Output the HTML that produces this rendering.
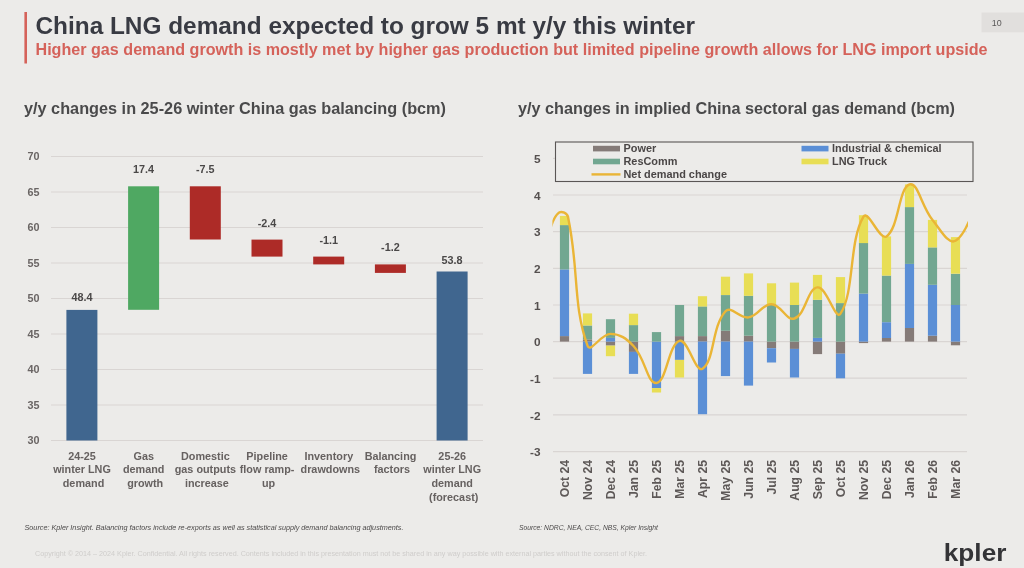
<!DOCTYPE html>
<html lang="en">
<head>
<meta charset="utf-8">
<title>China LNG demand expected to grow 5 mt y/y this winter</title>
<style>
html,body{margin:0;padding:0;background:#ecebe9;}
body{width:1024px;height:568px;overflow:hidden;position:relative;font-family:"Liberation Sans", Arial, sans-serif;}
svg{position:absolute;left:0;top:0;display:block;filter:blur(0.55px);}
svg text{font-family:"Liberation Sans", Arial, sans-serif;}
.title{font-size:23.9px;font-weight:700;fill:#393b43;}
.sub{font-size:15.8px;font-weight:700;fill:#d5625a;}
.ct{font-size:16px;font-weight:700;fill:#4a4a4b;}
.ax{font-size:10.8px;font-weight:700;fill:#6a6564;}
.ax2{font-size:11.8px;font-weight:700;fill:#55504f;}
.val{font-size:10.8px;font-weight:700;fill:#4a4848;}
.cat{font-size:11.4px;font-weight:700;fill:#666160;}
.mon{font-size:12.2px;font-weight:700;fill:#5d5857;}
.leg{font-size:10.9px;font-weight:700;fill:#4a4646;}
.src{font-size:6.6px;font-style:italic;fill:#4c4a4a;}
.copy{font-size:6.6px;fill:#cfcdcb;}
.pg{font-size:8.9px;fill:#5a5858;}
.logo{font-size:24.2px;font-weight:700;fill:#343437;}
</style>
</head>
<body>
<svg width="1024" height="568" viewBox="0 0 1024 568">
<rect x="0" y="0" width="1024" height="568" fill="#ecebe9"/>
<rect x="24.4" y="12" width="2.6" height="51.5" fill="#d5625a"/>
<text x="35.5" y="34.2" class="title" textLength="659.5" lengthAdjust="spacingAndGlyphs">China LNG demand expected to grow 5 mt y/y this winter</text>
<text x="35.5" y="55.3" class="sub" textLength="952" lengthAdjust="spacingAndGlyphs">Higher gas demand growth is mostly met by higher gas production but limited pipeline growth allows for LNG import upside</text>
<rect x="981.5" y="12.5" width="43" height="19.8" fill="#e1dfdd"/>
<text x="991.8" y="26.3" class="pg">10</text>
<text x="24" y="114.3" class="ct" textLength="422" lengthAdjust="spacingAndGlyphs">y/y changes in 25-26 winter China gas balancing (bcm)</text>
<text x="518" y="114.3" class="ct" textLength="437" lengthAdjust="spacingAndGlyphs">y/y changes in implied China sectoral gas demand (bcm)</text>
<g id="left-chart">
<line x1="51.0" x2="483.0" y1="440.5" y2="440.5" stroke="#d9d5d3" stroke-width="1.2"/>
<text x="39.6" y="444.4" class="ax" text-anchor="end">30</text>
<line x1="51.0" x2="483.0" y1="405.0" y2="405.0" stroke="#d9d5d3" stroke-width="1.2"/>
<text x="39.6" y="408.9" class="ax" text-anchor="end">35</text>
<line x1="51.0" x2="483.0" y1="369.5" y2="369.5" stroke="#d9d5d3" stroke-width="1.2"/>
<text x="39.6" y="373.4" class="ax" text-anchor="end">40</text>
<line x1="51.0" x2="483.0" y1="334.0" y2="334.0" stroke="#d9d5d3" stroke-width="1.2"/>
<text x="39.6" y="337.9" class="ax" text-anchor="end">45</text>
<line x1="51.0" x2="483.0" y1="298.5" y2="298.5" stroke="#d9d5d3" stroke-width="1.2"/>
<text x="39.6" y="302.4" class="ax" text-anchor="end">50</text>
<line x1="51.0" x2="483.0" y1="263.0" y2="263.0" stroke="#d9d5d3" stroke-width="1.2"/>
<text x="39.6" y="266.9" class="ax" text-anchor="end">55</text>
<line x1="51.0" x2="483.0" y1="227.5" y2="227.5" stroke="#d9d5d3" stroke-width="1.2"/>
<text x="39.6" y="231.4" class="ax" text-anchor="end">60</text>
<line x1="51.0" x2="483.0" y1="192.0" y2="192.0" stroke="#d9d5d3" stroke-width="1.2"/>
<text x="39.6" y="195.9" class="ax" text-anchor="end">65</text>
<line x1="51.0" x2="483.0" y1="156.5" y2="156.5" stroke="#d9d5d3" stroke-width="1.2"/>
<text x="39.6" y="160.4" class="ax" text-anchor="end">70</text>
<rect x="66.4" y="309.9" width="31.0" height="130.6" fill="#40668f"/>
<text x="81.9" y="300.8" class="val" text-anchor="middle">48.4</text>
<rect x="128.1" y="186.3" width="31.0" height="123.5" fill="#4fa862"/>
<text x="143.6" y="173.0" class="val" text-anchor="middle">17.4</text>
<rect x="189.8" y="186.3" width="31.0" height="53.2" fill="#ad2b27"/>
<text x="205.3" y="173.0" class="val" text-anchor="middle">-7.5</text>
<rect x="251.5" y="239.6" width="31.0" height="17.0" fill="#ad2b27"/>
<text x="267.0" y="227.3" class="val" text-anchor="middle">-2.4</text>
<rect x="313.2" y="256.6" width="31.0" height="7.8" fill="#ad2b27"/>
<text x="328.7" y="244.4" class="val" text-anchor="middle">-1.1</text>
<rect x="374.9" y="264.4" width="31.0" height="8.5" fill="#ad2b27"/>
<text x="390.4" y="251.0" class="val" text-anchor="middle">-1.2</text>
<rect x="436.6" y="271.5" width="31.0" height="169.0" fill="#40668f"/>
<text x="452.1" y="263.8" class="val" text-anchor="middle">53.8</text>
<text class="cat" text-anchor="middle" transform="translate(83.5,0) scale(0.95,1)">
<tspan x="0" y="459.6">24-25</tspan>
<tspan x="0" y="473.4">winter LNG</tspan>
<tspan x="0" y="487.2">demand</tspan>
</text>
<text class="cat" text-anchor="middle" transform="translate(145.2,0) scale(0.95,1)">
<tspan x="0" y="459.6">Gas</tspan>
<tspan x="0" y="473.4">demand</tspan>
<tspan x="0" y="487.2">growth</tspan>
</text>
<text class="cat" text-anchor="middle" transform="translate(206.9,0) scale(0.95,1)">
<tspan x="0" y="459.6">Domestic</tspan>
<tspan x="0" y="473.4">gas outputs</tspan>
<tspan x="0" y="487.2">increase</tspan>
</text>
<text class="cat" text-anchor="middle" transform="translate(268.6,0) scale(0.95,1)">
<tspan x="0" y="459.6">Pipeline</tspan>
<tspan x="0" y="473.4">flow ramp-</tspan>
<tspan x="0" y="487.2">up</tspan>
</text>
<text class="cat" text-anchor="middle" transform="translate(330.3,0) scale(0.95,1)">
<tspan x="0" y="459.6">Inventory</tspan>
<tspan x="0" y="473.4">drawdowns</tspan>
</text>
<text class="cat" text-anchor="middle" transform="translate(392.0,0) scale(0.95,1)">
<tspan x="0" y="459.6">Balancing</tspan>
<tspan x="0" y="473.4">factors</tspan>
</text>
<text class="cat" text-anchor="middle" transform="translate(453.7,0) scale(0.95,1)">
<tspan x="0" y="459.6">25-26</tspan>
<tspan x="0" y="473.4">winter LNG</tspan>
<tspan x="0" y="487.2">demand</tspan>
<tspan x="0" y="501.0">(forecast)</tspan>
</text>
</g>
<g id="right-chart">
<line x1="553.0" x2="967.0" y1="451.6" y2="451.6" stroke="#d9d5d3" stroke-width="1.2"/>
<text x="540.5" y="456.2" class="ax2" text-anchor="end">-3</text>
<line x1="553.0" x2="967.0" y1="414.9" y2="414.9" stroke="#d9d5d3" stroke-width="1.2"/>
<text x="540.5" y="419.5" class="ax2" text-anchor="end">-2</text>
<line x1="553.0" x2="967.0" y1="378.2" y2="378.2" stroke="#d9d5d3" stroke-width="1.2"/>
<text x="540.5" y="382.9" class="ax2" text-anchor="end">-1</text>
<line x1="553.0" x2="967.0" y1="341.6" y2="341.6" stroke="#d9d5d3" stroke-width="1.2"/>
<text x="540.5" y="346.2" class="ax2" text-anchor="end">0</text>
<line x1="553.0" x2="967.0" y1="305.0" y2="305.0" stroke="#d9d5d3" stroke-width="1.2"/>
<text x="540.5" y="309.6" class="ax2" text-anchor="end">1</text>
<line x1="553.0" x2="967.0" y1="268.3" y2="268.3" stroke="#d9d5d3" stroke-width="1.2"/>
<text x="540.5" y="272.9" class="ax2" text-anchor="end">2</text>
<line x1="553.0" x2="967.0" y1="231.7" y2="231.7" stroke="#d9d5d3" stroke-width="1.2"/>
<text x="540.5" y="236.3" class="ax2" text-anchor="end">3</text>
<line x1="553.0" x2="967.0" y1="195.0" y2="195.0" stroke="#d9d5d3" stroke-width="1.2"/>
<text x="540.5" y="199.6" class="ax2" text-anchor="end">4</text>
<line x1="553.0" x2="967.0" y1="158.4" y2="158.4" stroke="#d9d5d3" stroke-width="1.2"/>
<text x="540.5" y="163.0" class="ax2" text-anchor="end">5</text>
<rect x="559.9" y="336.1" width="9.2" height="5.5" fill="#857b78"/>
<rect x="559.9" y="269.4" width="9.2" height="66.7" fill="#5b8fd6"/>
<rect x="559.9" y="225.1" width="9.2" height="44.3" fill="#72a791"/>
<rect x="559.9" y="215.9" width="9.2" height="9.2" fill="#e8de55"/>
<text transform="translate(568.7,460) rotate(-90)" class="mon" text-anchor="end">Oct 24</text>
<rect x="582.9" y="339.4" width="9.2" height="2.2" fill="#857b78"/>
<rect x="582.9" y="341.6" width="9.2" height="32.3" fill="#5b8fd6"/>
<rect x="582.9" y="325.5" width="9.2" height="13.9" fill="#72a791"/>
<rect x="582.9" y="313.4" width="9.2" height="12.1" fill="#e8de55"/>
<text transform="translate(591.7,460) rotate(-90)" class="mon" text-anchor="end">Nov 24</text>
<rect x="605.9" y="341.6" width="9.2" height="4.0" fill="#857b78"/>
<rect x="605.9" y="337.9" width="9.2" height="3.7" fill="#5b8fd6"/>
<rect x="605.9" y="319.2" width="9.2" height="18.7" fill="#72a791"/>
<rect x="605.9" y="345.6" width="9.2" height="10.6" fill="#e8de55"/>
<text transform="translate(614.7,460) rotate(-90)" class="mon" text-anchor="end">Dec 24</text>
<rect x="628.9" y="341.6" width="9.2" height="10.3" fill="#857b78"/>
<rect x="628.9" y="351.9" width="9.2" height="22.0" fill="#5b8fd6"/>
<rect x="628.9" y="325.1" width="9.2" height="16.5" fill="#72a791"/>
<rect x="628.9" y="313.7" width="9.2" height="11.4" fill="#e8de55"/>
<text transform="translate(637.7,460) rotate(-90)" class="mon" text-anchor="end">Jan 25</text>
<rect x="651.9" y="341.6" width="9.2" height="46.5" fill="#5b8fd6"/>
<rect x="651.9" y="332.1" width="9.2" height="9.5" fill="#72a791"/>
<rect x="651.9" y="388.1" width="9.2" height="4.4" fill="#e8de55"/>
<text transform="translate(660.7,460) rotate(-90)" class="mon" text-anchor="end">Feb 25</text>
<rect x="674.9" y="336.1" width="9.2" height="5.5" fill="#857b78"/>
<rect x="674.9" y="341.6" width="9.2" height="18.3" fill="#5b8fd6"/>
<rect x="674.9" y="305.0" width="9.2" height="31.2" fill="#72a791"/>
<rect x="674.9" y="359.9" width="9.2" height="17.6" fill="#e8de55"/>
<text transform="translate(683.7,460) rotate(-90)" class="mon" text-anchor="end">Mar 25</text>
<rect x="697.9" y="336.1" width="9.2" height="5.5" fill="#857b78"/>
<rect x="697.9" y="341.6" width="9.2" height="72.6" fill="#5b8fd6"/>
<rect x="697.9" y="306.4" width="9.2" height="29.7" fill="#72a791"/>
<rect x="697.9" y="296.2" width="9.2" height="10.3" fill="#e8de55"/>
<text transform="translate(706.7,460) rotate(-90)" class="mon" text-anchor="end">Apr 25</text>
<rect x="720.9" y="330.6" width="9.2" height="11.0" fill="#857b78"/>
<rect x="720.9" y="341.6" width="9.2" height="34.5" fill="#5b8fd6"/>
<rect x="720.9" y="295.1" width="9.2" height="35.6" fill="#72a791"/>
<rect x="720.9" y="276.7" width="9.2" height="18.3" fill="#e8de55"/>
<text transform="translate(729.7,460) rotate(-90)" class="mon" text-anchor="end">May 25</text>
<rect x="743.9" y="335.7" width="9.2" height="5.9" fill="#857b78"/>
<rect x="743.9" y="341.6" width="9.2" height="44.0" fill="#5b8fd6"/>
<rect x="743.9" y="295.8" width="9.2" height="39.9" fill="#72a791"/>
<rect x="743.9" y="273.4" width="9.2" height="22.4" fill="#e8de55"/>
<text transform="translate(752.7,460) rotate(-90)" class="mon" text-anchor="end">Jun 25</text>
<rect x="766.9" y="341.6" width="9.2" height="6.6" fill="#857b78"/>
<rect x="766.9" y="348.2" width="9.2" height="14.3" fill="#5b8fd6"/>
<rect x="766.9" y="304.2" width="9.2" height="37.4" fill="#72a791"/>
<rect x="766.9" y="283.3" width="9.2" height="20.9" fill="#e8de55"/>
<text transform="translate(775.7,460) rotate(-90)" class="mon" text-anchor="end">Jul 25</text>
<rect x="789.9" y="341.6" width="9.2" height="7.3" fill="#857b78"/>
<rect x="789.9" y="348.9" width="9.2" height="28.6" fill="#5b8fd6"/>
<rect x="789.9" y="305.0" width="9.2" height="36.6" fill="#72a791"/>
<rect x="789.9" y="282.6" width="9.2" height="22.4" fill="#e8de55"/>
<text transform="translate(798.7,460) rotate(-90)" class="mon" text-anchor="end">Aug 25</text>
<rect x="812.9" y="341.6" width="9.2" height="12.5" fill="#857b78"/>
<rect x="812.9" y="337.9" width="9.2" height="3.7" fill="#5b8fd6"/>
<rect x="812.9" y="299.8" width="9.2" height="38.1" fill="#72a791"/>
<rect x="812.9" y="274.9" width="9.2" height="24.9" fill="#e8de55"/>
<text transform="translate(821.7,460) rotate(-90)" class="mon" text-anchor="end">Sep 25</text>
<rect x="835.9" y="341.6" width="9.2" height="12.1" fill="#857b78"/>
<rect x="835.9" y="353.7" width="9.2" height="24.6" fill="#5b8fd6"/>
<rect x="835.9" y="303.1" width="9.2" height="38.5" fill="#72a791"/>
<rect x="835.9" y="277.1" width="9.2" height="26.0" fill="#e8de55"/>
<text transform="translate(844.7,460) rotate(-90)" class="mon" text-anchor="end">Oct 25</text>
<rect x="858.9" y="341.6" width="9.2" height="1.5" fill="#857b78"/>
<rect x="858.9" y="293.6" width="9.2" height="48.0" fill="#5b8fd6"/>
<rect x="858.9" y="243.0" width="9.2" height="50.6" fill="#72a791"/>
<rect x="858.9" y="215.2" width="9.2" height="27.9" fill="#e8de55"/>
<text transform="translate(867.7,460) rotate(-90)" class="mon" text-anchor="end">Nov 25</text>
<rect x="881.9" y="337.9" width="9.2" height="3.7" fill="#857b78"/>
<rect x="881.9" y="322.2" width="9.2" height="15.8" fill="#5b8fd6"/>
<rect x="881.9" y="275.6" width="9.2" height="46.5" fill="#72a791"/>
<rect x="881.9" y="236.4" width="9.2" height="39.2" fill="#e8de55"/>
<text transform="translate(890.7,460) rotate(-90)" class="mon" text-anchor="end">Dec 25</text>
<rect x="904.9" y="328.0" width="9.2" height="13.6" fill="#857b78"/>
<rect x="904.9" y="263.9" width="9.2" height="64.1" fill="#5b8fd6"/>
<rect x="904.9" y="207.1" width="9.2" height="56.8" fill="#72a791"/>
<rect x="904.9" y="184.4" width="9.2" height="22.7" fill="#e8de55"/>
<text transform="translate(913.7,460) rotate(-90)" class="mon" text-anchor="end">Jan 26</text>
<rect x="927.9" y="335.7" width="9.2" height="5.9" fill="#857b78"/>
<rect x="927.9" y="284.8" width="9.2" height="50.9" fill="#5b8fd6"/>
<rect x="927.9" y="247.4" width="9.2" height="37.4" fill="#72a791"/>
<rect x="927.9" y="219.9" width="9.2" height="27.5" fill="#e8de55"/>
<text transform="translate(936.7,460) rotate(-90)" class="mon" text-anchor="end">Feb 26</text>
<rect x="950.9" y="341.6" width="9.2" height="3.7" fill="#857b78"/>
<rect x="950.9" y="305.0" width="9.2" height="36.6" fill="#5b8fd6"/>
<rect x="950.9" y="273.8" width="9.2" height="31.2" fill="#72a791"/>
<rect x="950.9" y="237.1" width="9.2" height="36.6" fill="#e8de55"/>
<text transform="translate(959.7,460) rotate(-90)" class="mon" text-anchor="end">Mar 26</text>
<clipPath id="plotclip"><rect x="552.4" y="140" width="415.6" height="320"/></clipPath>
<path d="M550.5,228.0 C550.5,228.0 554.5,215.6 559.2,212.6 C561.8,210.9 567.2,213.1 568.0,217.0 C579.1,268.9 572.6,304.7 587.5,345.6 C590.5,353.8 600.9,333.8 610.5,333.9 C620.2,334.0 626.3,338.3 633.5,346.0 C645.6,358.9 647.3,384.0 656.5,383.0 C666.6,381.9 668.5,344.3 679.5,340.9 C687.8,338.3 695.4,373.3 702.5,368.7 C714.7,360.8 711.5,326.7 725.5,311.2 C730.9,305.2 739.4,318.8 748.5,317.4 C758.7,315.9 761.9,304.0 771.5,304.2 C781.3,304.5 786.5,321.4 794.5,318.5 C805.9,314.3 807.4,288.4 817.5,287.4 C826.7,286.4 835.5,321.5 840.5,313.7 C854.8,291.8 848.7,241.5 863.5,216.6 C868.0,209.1 879.8,241.1 886.5,236.4 C899.1,227.6 898.4,188.3 909.5,184.4 C917.7,181.4 921.4,206.2 932.5,219.9 C940.7,230.0 948.2,244.8 955.5,240.8 C967.5,234.3 978.5,195.0 978.5,195.0" fill="none" stroke="#eab536" stroke-width="2.4" stroke-linejoin="round" clip-path="url(#plotclip)"/>
<rect x="555.5" y="142" width="417.5" height="39.5" fill="#ecebe9" stroke="#5a5655" stroke-width="1.1"/>
<rect x="593" y="145.79999999999998" width="27" height="5.6" fill="#857b78"/>
<text x="623.5" y="152.4" class="leg">Power</text>
<rect x="593" y="158.7" width="27" height="5.6" fill="#72a791"/>
<text x="623.5" y="165.3" class="leg">ResComm</text>
<line x1="591.5" x2="620.5" y1="174.4" y2="174.4" stroke="#eab536" stroke-width="2.4"/>
<text x="623.5" y="178.2" class="leg">Net demand change</text>
<rect x="801.5" y="145.79999999999998" width="27" height="5.6" fill="#5b8fd6"/>
<text x="832.0" y="152.4" class="leg">Industrial &amp; chemical</text>
<rect x="801.5" y="158.7" width="27" height="5.6" fill="#e8de55"/>
<text x="832.0" y="165.3" class="leg">LNG Truck</text>
</g>
<text x="24.5" y="530.3" class="src" textLength="379" lengthAdjust="spacingAndGlyphs">Source: Kpler Insight. Balancing factors include re-exports as well as statistical supply demand balancing adjustments.</text>
<text x="519" y="530.3" class="src" textLength="139" lengthAdjust="spacingAndGlyphs">Source: NDRC, NEA, CEC, NBS, Kpler Insight</text>
<text x="35" y="556.2" class="copy" textLength="612" lengthAdjust="spacingAndGlyphs">Copyright © 2014 – 2024 Kpler. Confidential. All rights reserved. Contents included in this presentation must not be shared in any way possible with external parties without the consent of Kpler.</text>
<text x="943.8" y="561.2" class="logo" textLength="62.6" lengthAdjust="spacingAndGlyphs">kpler</text>
</svg>
</body>
</html>
